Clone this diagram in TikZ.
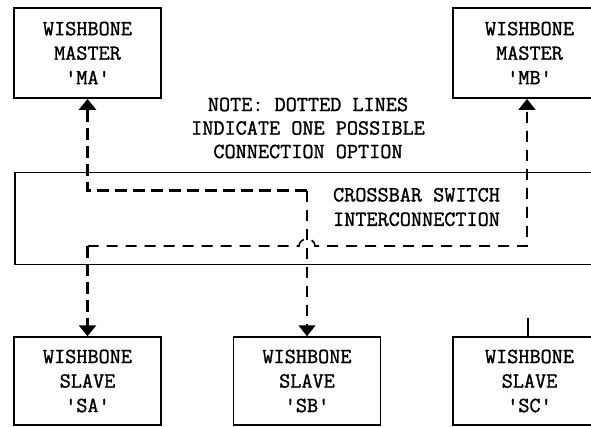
\documentclass[tikz,border=0pt]{standalone}
\usepackage{fontspec}
\newfontfamily\wbfont{Latin Modern Mono}[FakeBold=1.3]
\usetikzlibrary{arrows.meta}
\tikzset{
	boxfont/.style={font=\wbfont\fontsize{21.6}{24.5}\selectfont},
	wbbox/.style={draw,boxfont,align=center,inner sep=0pt,minimum width=147pt},
	master/.style={wbbox,line width=1.8pt,minimum height=90pt},
	slave/.style={wbbox,line width=1.5pt,minimum height=88pt},
	thickdash/.style={line width=3pt,dash pattern=on 12pt off 6pt},
	thindash/.style={line width=1.3pt,dash pattern=on 11pt off 8pt},
	tip/.style={-{Triangle[width=17pt,length=11pt]}}
}
\begin{document}
\begin{tikzpicture}[x=1pt,y=-1pt]
			\useasboundingbox (0,0) rectangle (591,427);
			\clip (0,0) rectangle (591,427);
			% masters
			\node[master] (ma) at (87.5,53) {WISHBONE\\MASTER\\'MA'};
			\node[master,minimum width=153pt] (mb) at (529.5,53) {WISHBONE\\MASTER\\'MB'};
			\node[align=center,font=\wbfont\fontsize{21.6}{23.5}\selectfont] (note) at (308,128) {NOTE: DOTTED LINES\\INDICATE ONE POSSIBLE\\CONNECTION OPTION};
			% crossbar
			\node[draw,line width=1.5pt,minimum width=620pt,minimum height=92pt,inner sep=0pt,anchor=north west] (xbar) at (14,172) {};
			\node[boxfont,align=left] (xlabel) at (416.5,207) {CROSSBAR SWITCH\\INTERCONNECTION};
			% slaves
			\node[slave] (sa) at (87.5,381) {WISHBONE\\SLAVE\\'SA'};
			\node[slave] (sb) at (307,381) {WISHBONE\\SLAVE\\'SB'};
			\node[slave,minimum width=153pt] (sc) at (529.5,381) {WISHBONE\\SLAVE\\'SC'};
			% connection points
			\coordinate (jn) at (307,191);
			\coordinate (sacorner) at (87.5,246);
			\coordinate (mbcorner) at (527,246);
			\coordinate (scstub) at (528,318);
			\draw[thickdash,tip] (jn) -| (ma.south);
			\draw[thindash,tip] (jn) -- (sb.north);
			\draw[thindash,line width=1.6pt,tip] (sacorner) -- (299,246) arc[start angle=180,end angle=0,x radius=8pt,y radius=7pt] -- (mbcorner) -- (mbcorner |- mb.south);
			\draw[thickdash,tip] (sacorner) -- (sa.north);
			\draw[line width=1.3pt] (scstub) -- (scstub |- sc.north);
		\end{tikzpicture}
\end{document}
